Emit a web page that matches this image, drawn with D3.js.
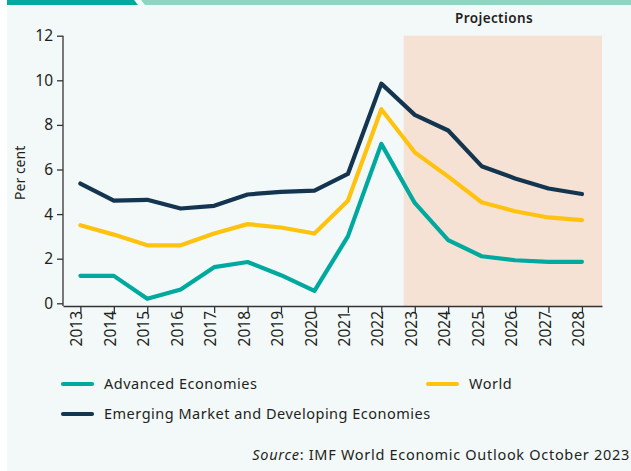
<!DOCTYPE html>
<html>
<head>
<meta charset="utf-8">
<script src="https://cdn.jsdelivr.net/npm/d3@7"></script>
<style>
  body { margin: 0; background: #fff; }
  svg { display: block; }
  text { font-family: "Noto Sans", sans-serif; fill: #231f20; }
</style>
</head>
<body>
<svg width="631" height="471"></svg>
<script>
// data
const years = d3.range(2013, 2029);
const advanced = [1.23, 1.23, 0.2, 0.62, 1.62, 1.85, 1.26, 0.56, 3.0, 7.15, 4.5, 2.83, 2.11, 1.93, 1.86, 1.86];
const world = [3.5, 3.08, 2.6, 2.6, 3.13, 3.55, 3.4, 3.13, 4.6, 8.7, 6.77, 5.68, 4.53, 4.13, 3.85, 3.73];
const emerging = [5.37, 4.6, 4.64, 4.25, 4.37, 4.88, 5.0, 5.05, 5.8, 9.85, 8.45, 7.75, 6.15, 5.6, 5.15, 4.9];
const yTicks = [0, 2, 4, 6, 8, 10, 12];
const projectionStart = 2022.67;

const series = [
  { name: "Advanced Economies", values: advanced, color: "#00a99d" },
  { name: "World", values: world, color: "#ffc20e" },
  { name: "Emerging Market and Developing Economies", values: emerging, color: "#143550" }
];

const svg = d3.select("svg");
const width = +svg.attr("width");
const height = +svg.attr("height");

// panel background and top band
svg.append("rect")
  .attr("x", 7).attr("y", 0)
  .attr("width", width - 7).attr("height", height)
  .attr("fill", "#f3f9f9");
svg.append("polygon")
  .attr("points", `141,0 ${width},0 ${width},5 145,5`)
  .attr("fill", "#8fd3c1");
svg.append("polygon")
  .attr("points", "7,0 134,0 138,5 7,5")
  .attr("fill", "#00a99d");

// scales
const x = d3.scaleLinear().domain([2012.48, 2028.6]).range([63, 602]);
const y = d3.scaleLinear().domain([0, 12]).range([303.3, 35.7]);
const axisY = 306;

// projections shading
svg.append("rect")
  .attr("x", x(projectionStart))
  .attr("y", y(12))
  .attr("width", x.range()[1] - x(projectionStart))
  .attr("height", axisY - y(12))
  .attr("fill", "#f6e2d5");

svg.append("text")
  .attr("x", 494)
  .attr("y", 23)
  .attr("text-anchor", "middle")
  .attr("font-size", 13.5)
  .attr("font-weight", 600)
  .attr("letter-spacing", 0.4)
  .text("Projections");

// y axis
const yAxis = svg.append("g")
  .attr("transform", `translate(63,0)`)
  .call(d3.axisLeft(y).tickValues(yTicks).tickSize(6).tickSizeOuter(0).tickPadding(4));
yAxis.select(".domain").remove();
yAxis.append("line")
  .attr("y1", y(12)).attr("y2", axisY)
  .attr("stroke", "#333").attr("stroke-width", 1.3);
yAxis.selectAll(".tick line").attr("stroke", "#333").attr("stroke-width", 1.3);
yAxis.selectAll(".tick text")
  .attr("font-family", "Noto Sans, sans-serif")
  .attr("font-size", 15.5)
  .attr("fill", "#231f20");

svg.append("text")
  .attr("transform", `translate(25,${(y(12) + axisY) / 2 + 2}) rotate(-90)`)
  .attr("text-anchor", "middle")
  .attr("font-size", 14)
  .text("Per cent");

// x axis
const xAxis = svg.append("g")
  .attr("transform", `translate(0,${axisY})`)
  .call(d3.axisBottom(x).tickValues(years).tickFormat(d3.format("d")).tickSize(7).tickSizeOuter(0));
xAxis.select(".domain").attr("stroke", "#333").attr("stroke-width", 1.3);
xAxis.selectAll(".tick line").attr("stroke", "#333").attr("stroke-width", 1.3);
xAxis.selectAll(".tick text")
  .attr("font-family", "Liberation Sans, Arial, sans-serif")
  .attr("font-size", 15.5)
  .attr("fill", "#333")
  .attr("text-anchor", "end")
  .attr("dy", "0.1em")
  .attr("transform", "translate(0,5) rotate(-90)")
  .attr("x", 0).attr("y", 0);

// lines
const line = d3.line()
  .x((d, i) => x(years[i]))
  .y((d) => y(d));

svg.append("g")
  .selectAll("path")
  .data(series)
  .enter().append("path")
    .attr("d", (d) => line(d.values))
    .attr("fill", "none")
    .attr("stroke", (d) => d.color)
    .attr("stroke-width", 4.2)
    .attr("stroke-linejoin", "round")
    .attr("stroke-linecap", "round");

// legend
const legendPos = [
  { x: 63, y: 384 },
  { x: 428, y: 384 },
  { x: 63, y: 414 }
];
const legend = svg.append("g")
  .selectAll("g")
  .data(series)
  .enter().append("g")
    .attr("transform", (d, i) => `translate(${legendPos[i].x},${legendPos[i].y})`);
legend.append("line")
  .attr("x1", 0).attr("x2", 29)
  .attr("stroke", (d) => d.color)
  .attr("stroke-width", 4.2)
  .attr("stroke-linecap", "round");
legend.append("text")
  .attr("x", 41)
  .attr("dy", "0.35em")
  .attr("font-size", 14.5)
  .attr("letter-spacing", 0.5)
  .text((d) => d.name);

// source
const source = svg.append("text")
  .attr("x", 630)
  .attr("y", 460)
  .attr("text-anchor", "end")
  .attr("font-size", 14.5)
  .attr("letter-spacing", 0.7);
source.append("tspan").attr("font-style", "italic").text("Source");
source.append("tspan").text(": IMF World Economic Outlook October 2023");
</script>
</body>
</html>
